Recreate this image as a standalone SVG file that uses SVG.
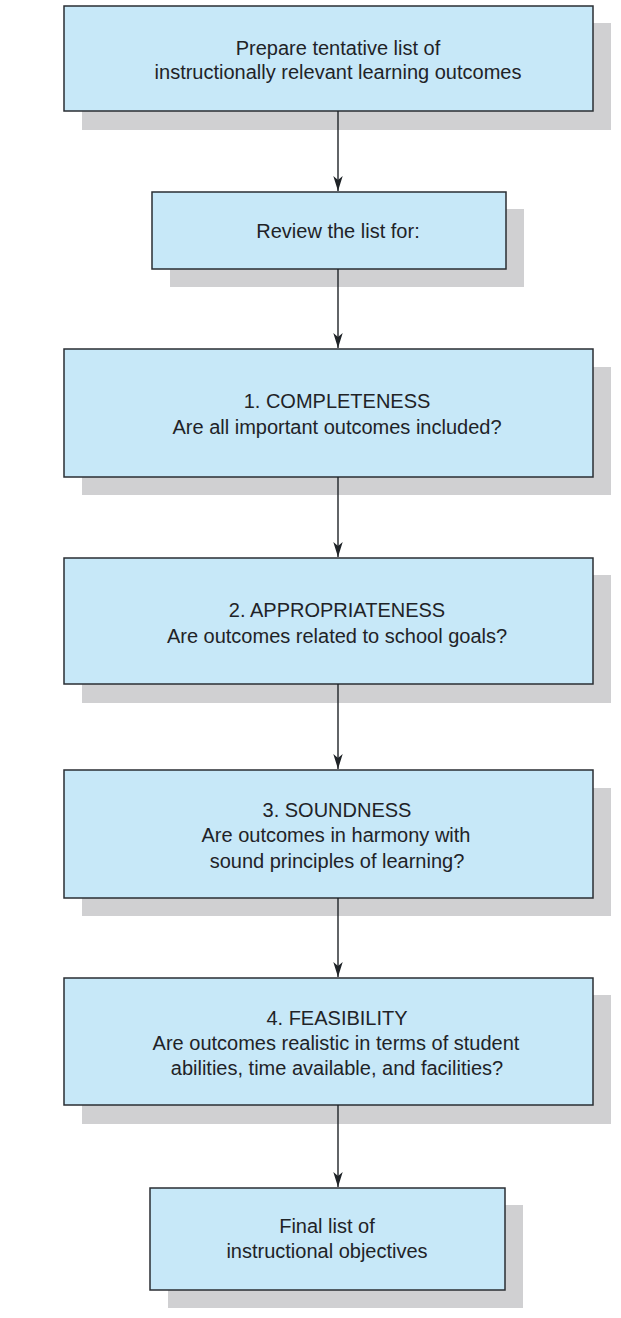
<svg xmlns="http://www.w3.org/2000/svg" width="621" height="1318" viewBox="0 0 621 1318">
  <style>
    .shadow { fill: #d0d0d2; stroke: none; }
    .box { fill: #c7e8f8; stroke: #2a2e33; stroke-width: 1.5; }
    .label { font-family: "Liberation Sans", Arial, Helvetica, sans-serif; font-size: 20px; fill: #1f2327; text-anchor: middle; }
    .conn { stroke: #1f2327; stroke-width: 1.4; fill: none; marker-end: url(#arrow); }
  </style>
  <defs>
    <marker id="arrow" markerUnits="userSpaceOnUse" markerWidth="18" markerHeight="12" viewBox="-16 -6 18 12" refX="0" refY="0" orient="auto">
      <path d="M0,0 L-15,-4.7 L-11,0 L-15,4.7 Z" fill="#1f2327"/>
    </marker>
  </defs>
  <rect width="621" height="1318" fill="#ffffff"/>

  <g id="node-prepare">
    <rect class="shadow" x="82" y="23" width="529" height="107"/>
    <rect class="box" x="64" y="6" width="529" height="105"/>
    <text class="label" x="338" y="55">Prepare tentative list of</text>
    <text class="label" x="338" y="79">instructionally relevant learning outcomes</text>
  </g>

  <g id="node-review">
    <rect class="shadow" x="170" y="209" width="354" height="78"/>
    <rect class="box" x="152" y="192" width="354" height="77"/>
    <text class="label" x="338" y="238">Review the list for:</text>
  </g>

  <g id="node-completeness">
    <rect class="shadow" x="82" y="367" width="529" height="128"/>
    <rect class="box" x="64" y="349" width="529" height="128"/>
    <text class="label" x="337" y="408">1. COMPLETENESS</text>
    <text class="label" x="337" y="434">Are all important outcomes included?</text>
  </g>

  <g id="node-appropriateness">
    <rect class="shadow" x="82" y="575" width="529" height="128"/>
    <rect class="box" x="64" y="558" width="529" height="126"/>
    <text class="label" x="337" y="617">2. APPROPRIATENESS</text>
    <text class="label" x="337" y="643">Are outcomes related to school goals?</text>
  </g>

  <g id="node-soundness">
    <rect class="shadow" x="82" y="788" width="529" height="128"/>
    <rect class="box" x="64" y="770" width="529" height="128"/>
    <text class="label" x="337" y="817">3. SOUNDNESS</text>
    <text class="label" x="336" y="842">Are outcomes in harmony with</text>
    <text class="label" x="337" y="868">sound principles of learning?</text>
  </g>

  <g id="node-feasibility">
    <rect class="shadow" x="82" y="995" width="529" height="129"/>
    <rect class="box" x="64" y="978" width="529" height="127"/>
    <text class="label" x="337" y="1025">4. FEASIBILITY</text>
    <text class="label" x="336" y="1050">Are outcomes realistic in terms of student</text>
    <text class="label" x="337" y="1075">abilities, time available, and facilities?</text>
  </g>

  <g id="node-final">
    <rect class="shadow" x="168" y="1205" width="355" height="103"/>
    <rect class="box" x="150" y="1188" width="355" height="102"/>
    <text class="label" x="327" y="1233">Final list of</text>
    <text class="label" x="327" y="1258">instructional objectives</text>
  </g>

  <g id="connectors">
    <line class="conn" x1="338" y1="111" x2="338" y2="191"/>
    <line class="conn" x1="338" y1="269" x2="338" y2="348"/>
    <line class="conn" x1="338" y1="477" x2="338" y2="557"/>
    <line class="conn" x1="338" y1="684" x2="338" y2="769"/>
    <line class="conn" x1="338" y1="898" x2="338" y2="977"/>
    <line class="conn" x1="338" y1="1105" x2="338" y2="1187"/>
  </g>
</svg>
